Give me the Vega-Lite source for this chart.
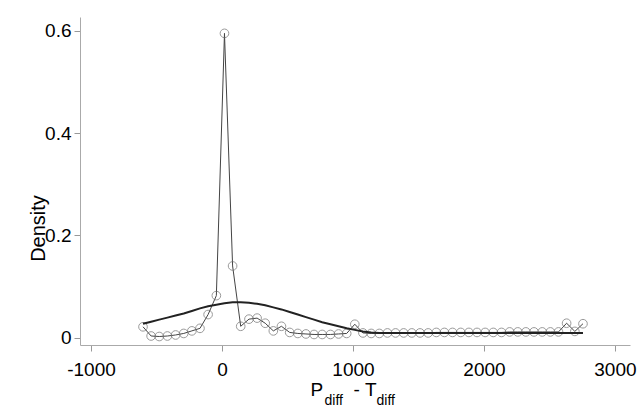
{
  "$schema": "https://vega.github.io/schema/vega-lite/v6.json",
  "width": 550,
  "height": 328,
  "autosize": {"type": "none"},
  "padding": {"left": 80, "top": 17, "right": 10, "bottom": 61},
  "background": "white",
  "config": {
    "view": {"stroke": null},
    "font": "Liberation Sans",
    "axis": {
      "grid": false,
      "domainColor": "#aaaaaa",
      "tickColor": "#999999",
      "tickSize": 6,
      "labelFontSize": 19,
      "labelColor": "#000000",
      "labelFont": "Liberation Sans",
      "titleFont": "Liberation Sans",
      "titleFontWeight": "normal",
      "titleColor": "#000000"
    }
  },
  "data": {
    "values": [
      {"x": -603, "k": 0.021, "n": 0.027},
      {"x": -541, "k": 0.003, "n": 0.031},
      {"x": -479, "k": 0.002, "n": 0.035},
      {"x": -417, "k": 0.003, "n": 0.039},
      {"x": -354, "k": 0.005, "n": 0.043},
      {"x": -292, "k": 0.008, "n": 0.047},
      {"x": -230, "k": 0.013, "n": 0.052},
      {"x": -168, "k": 0.018, "n": 0.057},
      {"x": -106, "k": 0.045, "n": 0.061},
      {"x": -43, "k": 0.082, "n": 0.064},
      {"x": 19, "k": 0.595, "n": 0.067},
      {"x": 81, "k": 0.140, "n": 0.069},
      {"x": 143, "k": 0.022, "n": 0.069},
      {"x": 206, "k": 0.036, "n": 0.068},
      {"x": 268, "k": 0.038, "n": 0.066},
      {"x": 330, "k": 0.028, "n": 0.063},
      {"x": 392, "k": 0.013, "n": 0.059},
      {"x": 454, "k": 0.022, "n": 0.055},
      {"x": 517, "k": 0.010, "n": 0.050},
      {"x": 579, "k": 0.008, "n": 0.045},
      {"x": 641, "k": 0.007, "n": 0.040},
      {"x": 703, "k": 0.006, "n": 0.035},
      {"x": 765, "k": 0.006, "n": 0.030},
      {"x": 828, "k": 0.006, "n": 0.026},
      {"x": 890, "k": 0.007, "n": 0.022},
      {"x": 952, "k": 0.008, "n": 0.018},
      {"x": 1014, "k": 0.026, "n": 0.015},
      {"x": 1076, "k": 0.009, "n": 0.012},
      {"x": 1139, "k": 0.008, "n": 0.010},
      {"x": 1201, "k": 0.008, "n": 0.009},
      {"x": 1263, "k": 0.009, "n": 0.009},
      {"x": 1325, "k": 0.009, "n": 0.009},
      {"x": 1387, "k": 0.009, "n": 0.009},
      {"x": 1449, "k": 0.009, "n": 0.009},
      {"x": 1512, "k": 0.009, "n": 0.009},
      {"x": 1574, "k": 0.009, "n": 0.009},
      {"x": 1636, "k": 0.010, "n": 0.009},
      {"x": 1698, "k": 0.010, "n": 0.009},
      {"x": 1760, "k": 0.010, "n": 0.009},
      {"x": 1823, "k": 0.010, "n": 0.009},
      {"x": 1885, "k": 0.010, "n": 0.009},
      {"x": 1947, "k": 0.010, "n": 0.009},
      {"x": 2009, "k": 0.010, "n": 0.009},
      {"x": 2071, "k": 0.010, "n": 0.009},
      {"x": 2134, "k": 0.010, "n": 0.009},
      {"x": 2196, "k": 0.011, "n": 0.009},
      {"x": 2258, "k": 0.011, "n": 0.009},
      {"x": 2320, "k": 0.011, "n": 0.009},
      {"x": 2382, "k": 0.011, "n": 0.009},
      {"x": 2445, "k": 0.011, "n": 0.009},
      {"x": 2507, "k": 0.011, "n": 0.009},
      {"x": 2569, "k": 0.011, "n": 0.009},
      {"x": 2631, "k": 0.028, "n": 0.009},
      {"x": 2694, "k": 0.012, "n": 0.009},
      {"x": 2756, "k": 0.027, "n": 0.009}
    ]
  },
  "encoding": {
    "y": {
      "type": "quantitative",
      "scale": {"domain": [-0.0146, 0.627], "nice": false, "zero": false},
      "axis": {
        "values": [0, 0.2, 0.4, 0.6],
        "labelExpr": "datum.value == 0 ? '0' : format(datum.value, '.1f')",
        "labelPadding": 3,
        "title": "Density",
        "titleFontSize": 20,
        "titleX": -36,
        "titleY": 211,
        "titleAlign": "center",
        "titleBaseline": "alphabetic",
        "titleAngle": -90
      }
    }
  },
  "layer": [
    {
      "mark": {"type": "line", "color": "#444444", "strokeWidth": 1},
      "encoding": {
        "x": {
          "field": "x", "type": "quantitative",
          "scale": {"domain": [-1084, 3115], "nice": false, "zero": false},
          "axis": {
            "orient": "bottom",
            "values": [-1000, 0, 1000, 2000, 3000],
            "labelExpr": "'' + datum.value",
            "labelPadding": 9,
            "labelFlush": false,
            "labelOverlap": false,
            "title": "P",
            "titleFontSize": 19,
            "titleX": 230,
            "titleY": 50,
            "titleAlign": "left",
            "titleBaseline": "alphabetic"
          }
        },
        "y": {"field": "k"}
      }
    },
    {
      "mark": {"type": "point", "shape": "circle", "filled": false, "stroke": "#707070", "strokeWidth": 1, "size": 75},
      "encoding": {
        "x": {
          "field": "x", "type": "quantitative",
          "axis": {
            "orient": "bottom",
            "domain": false, "ticks": false, "labels": false,
            "title": "diff",
            "titleFontSize": 14,
            "titleX": 244,
            "titleY": 59,
            "titleAlign": "left",
            "titleBaseline": "alphabetic"
          }
        },
        "y": {"field": "k"}
      }
    },
    {
      "mark": {"type": "line", "color": "#222222", "strokeWidth": 2},
      "encoding": {
        "x": {
          "field": "x", "type": "quantitative",
          "axis": {
            "orient": "bottom",
            "domain": false, "ticks": false, "labels": false,
            "title": "-\u00a0T",
            "titleFontSize": 19,
            "titleX": 273,
            "titleY": 50,
            "titleAlign": "left",
            "titleBaseline": "alphabetic"
          }
        },
        "y": {"field": "n"}
      }
    },
    {
      "mark": {"type": "line", "strokeOpacity": 0},
      "encoding": {
        "x": {
          "field": "x", "type": "quantitative",
          "axis": {
            "orient": "bottom",
            "domain": false, "ticks": false, "labels": false,
            "title": "diff",
            "titleFontSize": 14,
            "titleX": 296,
            "titleY": 59,
            "titleAlign": "left",
            "titleBaseline": "alphabetic"
          }
        },
        "y": {"field": "n"}
      }
    }
  ],
  "resolve": {"axis": {"x": "independent"}}
}
